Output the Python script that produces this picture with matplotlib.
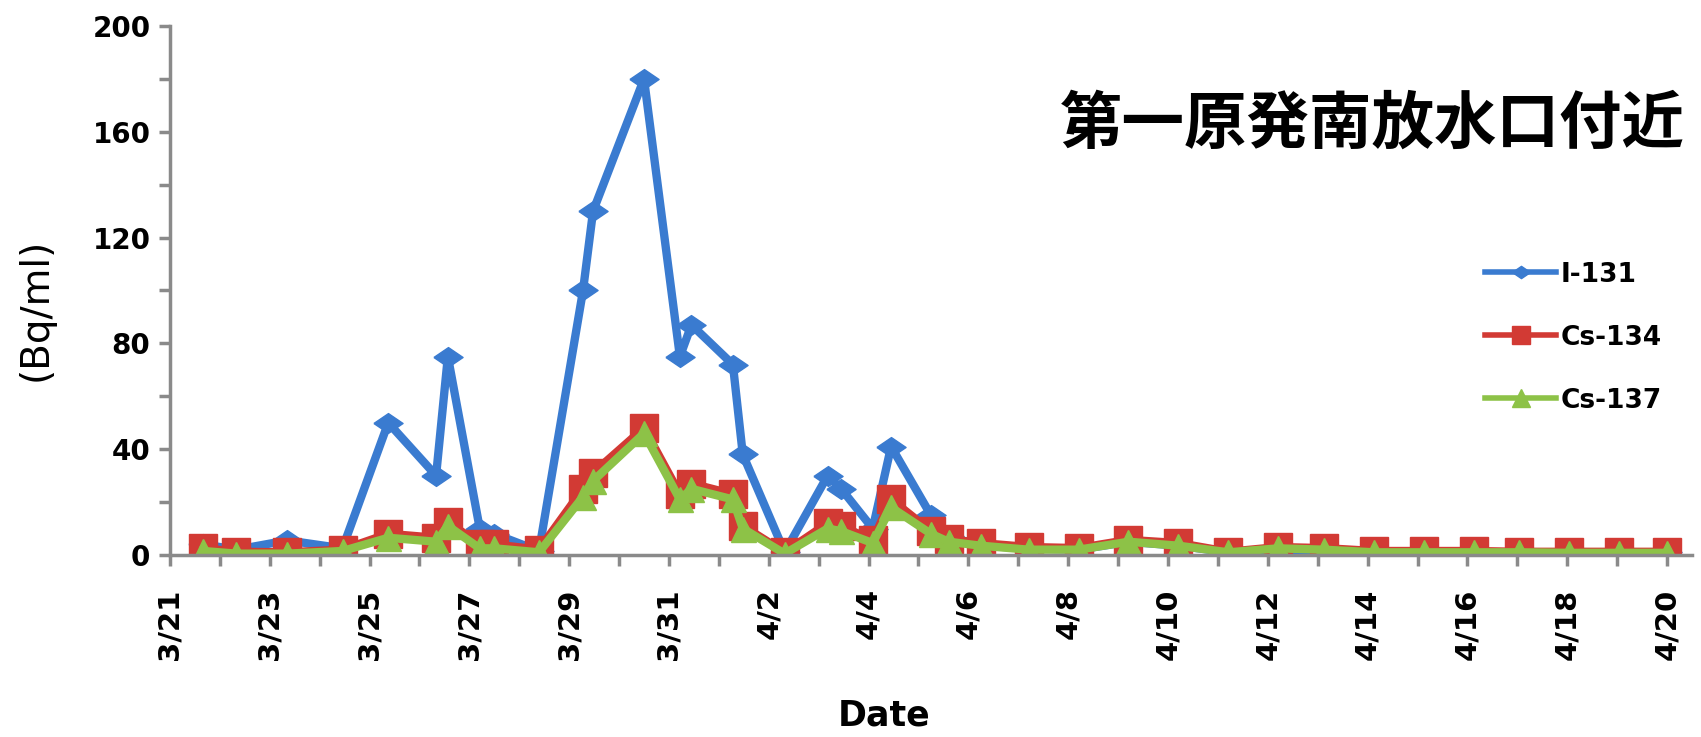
import pandas as pd
import matplotlib.pyplot as plt

# sample times (2011) and concentrations in Bq/ml
times = ["2011-03-21 16:00", "2011-03-22 08:00", "2011-03-23 08:30", "2011-03-24 11:00",
         "2011-03-25 09:00", "2011-03-26 08:00", "2011-03-26 13:40", "2011-03-27 05:00",
         "2011-03-27 12:00", "2011-03-28 09:30", "2011-03-29 06:40", "2011-03-29 11:30",
         "2011-03-30 12:00", "2011-03-31 05:15", "2011-03-31 10:50", "2011-04-01 06:45",
         "2011-04-01 11:30", "2011-04-02 07:40", "2011-04-03 04:20", "2011-04-03 10:50",
         "2011-04-04 02:00", "2011-04-04 10:50", "2011-04-05 06:00", "2011-04-05 14:30",
         "2011-04-06 06:00", "2011-04-07 05:00", "2011-04-08 05:00", "2011-04-09 05:00",
         "2011-04-10 05:00", "2011-04-11 05:00", "2011-04-12 05:00", "2011-04-13 03:00",
         "2011-04-14 03:00", "2011-04-15 03:00", "2011-04-16 03:00", "2011-04-17 01:00",
         "2011-04-18 01:00", "2011-04-19 01:00", "2011-04-20 00:00"]
i131 = [4, 2, 5.5, 2.5, 50, 30, 75, 10, 8, 1.5, 100, 130, 180, 75, 87, 72, 38, 1,
        30, 25, 10, 41, 15, 7, 3.5, 2.5, 2, 5, 3.5, 1, 2, 1.5, 1, 1, 1, 1, 1, 1, 1]
cs134 = [2.6, 1.2, 1, 2, 8, 6.5, 12.5, 4, 4, 2, 25, 31, 48, 23, 27, 23, 11, 1,
         12, 11, 5.5, 21, 9, 6, 4.5, 3, 2.6, 5.7, 4.5, 1.2, 3, 2.6, 1.5, 1.5, 1.5,
         1.2, 1.2, 1.2, 1.2]
cs137 = [1.5, 0.5, 0.5, 1.5, 6.5, 5, 11, 2.5, 2.5, 1, 22, 28, 46, 21, 25, 21, 10, 0.5,
         10, 9, 4.5, 18, 8, 5, 3.5, 2, 2, 5, 3.5, 1, 2.5, 2, 1, 1, 1, 1, 0.8, 0.8, 0.8]

series_names = ["I-131", "Cs-134", "Cs-137"]
title = "第一原発南放水口付近"

t = pd.to_datetime(times)
label_days = pd.date_range("2011-03-21", "2011-04-20", freq="2D")
all_days = pd.date_range("2011-03-21", "2011-04-20", freq="D")

fig = plt.figure(figsize=(17.01, 7.37), dpi=100)
ax = fig.add_axes([0.0999, 0.247, 0.8948, 0.7177])

diamond = [(-1, 0), (0, 0.68), (1, 0), (0, -0.68), (-1, 0)]
ax.plot(t, i131, color="#3A7BD0", lw=6, marker=diamond, ms=21,
        mec="#3A7BD0", label=series_names[0])
ax.plot(t, cs134, color="#D23A34", lw=6, marker="s", ms=19.5,
        mec="#D23A34", label=series_names[1])
ax.plot(t, cs137, color="#8DC247", lw=6, marker="^", ms=18,
        mec="#8DC247", label=series_names[2])

ax.set_ylim(0, 200)
ax.set_yticks(range(0, 201, 40))
ax.set_yticks(range(20, 200, 40), minor=True)
ax.set_xlim(pd.Timestamp("2011-03-21"), pd.Timestamp("2011-04-20 12:00"))
ax.set_xticks(label_days)
ax.set_xticks([d for d in all_days if d not in label_days], minor=True)
ax.set_xticklabels([f"{d.month}/{d.day}" for d in label_days], rotation=90)

for s in ["top", "right"]:
    ax.spines[s].set_visible(False)
for s in ["left", "bottom"]:
    ax.spines[s].set_color("#8a8a8a")
    ax.spines[s].set_linewidth(2.5)
ax.tick_params(axis="both", which="both", color="#8a8a8a", width=2.5, length=8)
ax.tick_params(axis="y", labelsize=20, pad=6)
ax.tick_params(axis="x", labelsize=21, pad=16)
for lab in ax.get_xticklabels() + ax.get_yticklabels():
    lab.set_fontweight("bold")

ax.set_ylabel("(Bq/ml)", fontsize=28)
ax.yaxis.set_label_coords(-0.076, 0.465)
ax.set_xlabel("Date", fontsize=25, fontweight="bold")
ax.xaxis.set_label_coords(0.469, -0.272)

leg = ax.legend(loc="upper left", bbox_to_anchor=(0.873, 0.645),
                bbox_transform=fig.transFigure, frameon=False,
                prop={"weight": "bold", "size": 19},
                handlelength=2.7, handletextpad=0.15, labelspacing=1.4,
                borderpad=0, borderaxespad=0)
for h in leg.legend_handles:
    h.set_linewidth(4)
    h.set_markersize(13)

fig.text(0.807, 0.832, title, fontsize=45, fontweight="bold",
         family=["Noto Sans CJK JP", "DejaVu Sans"], ha="center", va="center")

fig.savefig("out.png", dpi=100)
